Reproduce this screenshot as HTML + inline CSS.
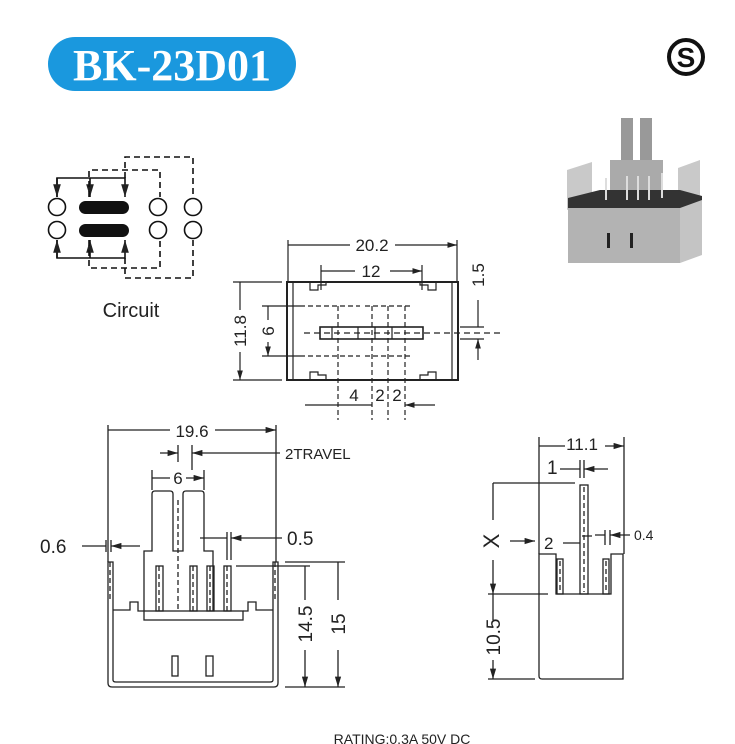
<!DOCTYPE html>
<html><head><meta charset="utf-8"><style>
html,body{margin:0;padding:0;background:#fff;}
svg{display:block;}
text{font-family:"Liberation Sans",sans-serif;fill:#222;}
</style></head><body>
<svg width="735" height="744" viewBox="0 0 735 744" xmlns="http://www.w3.org/2000/svg">
<defs>
<marker id="a" viewBox="0 0 10 6" refX="10" refY="3" markerWidth="8" markerHeight="5" orient="auto"><path d="M0,0 L10,3 L0,6 z" fill="#222"/></marker>
</defs>
<rect x="48" y="37" width="248" height="54" rx="27" fill="#1a98de"/>
<text x="172" y="80" text-anchor="middle" font-weight="bold" font-size="44" style="fill:#fff;font-family:'Liberation Serif',serif">BK-23D01</text>
<circle cx="686" cy="57" r="17" fill="none" stroke="#111" stroke-width="4"/>
<text x="686" y="67" text-anchor="middle" font-weight="bold" font-size="28" style="fill:#111">S</text>

<!-- circuit -->
<g stroke="#111" stroke-width="1.6" fill="none">
<circle cx="57" cy="207" r="8.5"/><circle cx="57" cy="230" r="8.5"/>
<circle cx="158" cy="207" r="8.5"/><circle cx="158" cy="230" r="8.5"/>
<circle cx="193" cy="207" r="8.5"/><circle cx="193" cy="230" r="8.5"/>
<path d="M57 197 V178 H125 V197" marker-end="url(#a)"/><path d="M90 178 V197" marker-end="url(#a)"/><path d="M57 178 V197" marker-end="url(#a)"/>
<path d="M57 240 V258 H125 V240" marker-end="url(#a)"/><path d="M90 258 V240" marker-end="url(#a)"/><path d="M57 258 V240" marker-end="url(#a)"/>
<g stroke-dasharray="6,4"><path d="M89 197 V170 H160 V197"/><path d="M89 240 V268 H160 V240"/><path d="M125 178 V157 H193 V197"/><path d="M125 258 V278 H193 V240"/></g>
</g>
<rect x="79" y="201" width="50" height="13" rx="6.5" fill="#111"/>
<rect x="79" y="224" width="50" height="13" rx="6.5" fill="#111"/>
<text x="131" y="317" text-anchor="middle" font-size="20">Circuit</text>

<!-- photo -->
<g>
<rect x="621" y="118" width="12" height="60" fill="#999"/><rect x="640" y="118" width="12" height="60" fill="#999"/>
<rect x="610" y="160" width="53" height="40" fill="#aaa"/>
<path d="M567 170 L592 162 V200 L567 210 Z" fill="#c9c9c9"/>
<path d="M678 168 L700 160 V205 L678 212 Z" fill="#c9c9c9"/>
<path d="M568 198 L600 190 H680 L702 196 V215 H568 Z" fill="#333"/>
<path d="M568 208 H680 V263 H568 Z" fill="#b3b3b3"/>
<path d="M680 208 L702 200 V255 L680 263 Z" fill="#c4c4c4"/>
<rect x="607" y="233" width="3" height="15" fill="#222"/><rect x="630" y="233" width="3" height="15" fill="#222"/>
<g stroke="#ddd" stroke-width="2"><path d="M606 178 V200 M627 176 V200 M638 176 V200 M649 176 V200 M662 173 V198"/></g>
</g>

<g stroke="#222" stroke-width="1.2" fill="none">
<!-- top view -->
<rect x="287" y="282" width="171" height="98" stroke-width="2"/>
<path d="M293 282 V380 M452 282 V380"/>
<path d="M310 282 V290 H318 V285 H326 V282 M436 282 V290 H428 V285 H420 V282 M310 380 V372 H318 V375 H326 V380 M436 380 V372 H428 V375 H420 V380"/>
<rect x="320" y="327" width="103" height="12" stroke-width="1.6"/>
<path d="M332 327 V339 M358 327 V339 M375 327 V339 M392 327 V339"/>
<path d="M304 333 H500" stroke-dasharray="6,4"/>
<path d="M338 306 V420 M372 306 V420 M388 306 V420 M405 306 V420" stroke-dasharray="5,3"/>
<path d="M300 306 H360 M300 356 H360 M365 306 H412 M365 356 H412" stroke-dasharray="5,3"/>
<path d="M288 282 V240 M457 282 V240 M321 290 V265 M422 290 V265"/>
<path d="M350 245 H288 M395 245 H457" marker-end="url(#a)"/>
<path d="M355 271 H321 M390 271 H422" marker-end="url(#a)"/>
<path d="M233 282 H282 M233 380 H282 M262 306 H300 M262 356 H300"/>
<path d="M240 310 V282 M240 352 V380" marker-end="url(#a)"/>
<path d="M268 320 V306 M268 342 V356" marker-end="url(#a)"/>
<path d="M460 327 H484 M460 339 H484"/>
<path d="M478 300 V327 M478 360 V339" marker-end="url(#a)"/>
<path d="M305 405 H338 M435 405 H405" marker-end="url(#a)"/>
<path d="M338 405 H372"/>
</g>
<text x="372" y="251" text-anchor="middle" font-size="17">20.2</text>
<text x="371" y="277" text-anchor="middle" font-size="17">12</text>
<text transform="translate(246,331) rotate(-90)" text-anchor="middle" font-size="17">11.8</text>
<text transform="translate(274,331) rotate(-90)" text-anchor="middle" font-size="17">6</text>
<text transform="translate(484,275) rotate(-90)" text-anchor="middle" font-size="17">1.5</text>
<text x="354" y="401" text-anchor="middle" font-size="17">4</text>
<text x="380" y="401" text-anchor="middle" font-size="17">2</text>
<text x="397" y="401" text-anchor="middle" font-size="17">2</text>

<!-- front view -->
<g stroke="#222" stroke-width="1.3" fill="none">
<path d="M108 562 V683 Q108 687 112 687 H274 Q278 687 278 683 V562 H273 V680 Q273 682 270 682 H116 Q113 682 113 680 V562 Z"/>
<path d="M113 610 H130 V602 H138 V611 H144 M273 610 H256 V602 H248 V611 H243"/>
<rect x="144" y="611" width="99" height="9"/>
<path d="M144 611 V551 H152 V494 Q152 491 155 491 H170 Q173 491 173 494 V551 H183 V494 Q183 491 186 491 H201 Q204 491 204 494 V551 H213 V611"/>
<rect x="156" y="566" width="7" height="45"/><rect x="190" y="566" width="7" height="45"/><rect x="207" y="566" width="7" height="45"/><rect x="224" y="566" width="7" height="45"/>
<path d="M178 500 V611 M159 566 V611 M193 566 V611 M210 566 V611 M227 566 V611 M110 562 V600 M275 562 V600" stroke-dasharray="5,3"/>
<rect x="172" y="656" width="6" height="20"/><rect x="206" y="656" width="7" height="20"/>
<path d="M108 562 V425 M276 562 V425"/>
<path d="M170 430 H108 M215 430 H276" marker-end="url(#a)"/>
<path d="M178 445 V462 M192 445 V470"/>
<path d="M160 453 H178" marker-end="url(#a)"/><path d="M280 453 H192" marker-end="url(#a)"/>
<path d="M152 470 V490 M204 470 V490"/>
<path d="M170 478 H152 M186 478 H204" marker-end="url(#a)"/>
<path d="M106 540 V552 M111 540 V552"/>
<path d="M82 546 H106 M140 546 H111" marker-end="url(#a)"/>
<path d="M227 532 V560 M231 532 V560"/>
<path d="M200 538 H227 M282 538 H231" marker-end="url(#a)"/>
<path d="M236 566 H310 M285 562 H345 M285 687 H345"/>
<path d="M305 600 V566 M305 650 V687" marker-end="url(#a)"/>
<path d="M338 600 V562 M338 650 V687" marker-end="url(#a)"/>
</g>
<text x="192" y="437" text-anchor="middle" font-size="17">19.6</text>
<text x="285" y="459" font-size="15">2TRAVEL</text>
<text x="178" y="484" text-anchor="middle" font-size="17">6</text>
<text x="40" y="553" font-size="19">0.6</text>
<text x="287" y="545" font-size="19">0.5</text>
<text transform="translate(312,624) rotate(-90)" text-anchor="middle" font-size="19">14.5</text>
<text transform="translate(345,624) rotate(-90)" text-anchor="middle" font-size="19">15</text>

<!-- side view -->
<g stroke="#222" stroke-width="1.3" fill="none">
<path d="M539 554 V676 Q539 679 542 679 H623 V554 H611 V594 H556 V554 Z"/>
<rect x="580" y="485" width="8" height="109"/>
<rect x="557" y="559" width="6" height="35"/><rect x="603" y="559" width="6" height="35"/>
<path d="M584 487 V592 M560 561 V592 M606 561 V592" stroke-dasharray="5,3"/>
<path d="M539 554 V437 M624 554 V437"/>
<path d="M565 446 H539 M605 446 H624" marker-end="url(#a)"/>
<path d="M580 460 V478 M584 460 V478"/>
<path d="M560 469 H580 M608 469 H584" marker-end="url(#a)"/>
<path d="M493 483 H575 M488 594 H548 M488 679 H535"/>
<path d="M493 520 V483 M493 560 V594" marker-end="url(#a)"/>
<path d="M493 620 V594 M493 660 V679" marker-end="url(#a)"/>
<path d="M510 541 H535" marker-end="url(#a)"/>
<path d="M563 543 H580 M582 536 H592" />
<path d="M605 530 V545 M610 530 V545"/>
<path d="M595 535 H605 M630 535 H610" marker-end="url(#a)"/>
</g>
<text x="582" y="450" text-anchor="middle" font-size="17">11.1</text>
<text x="547" y="474" font-size="19">1</text>
<text transform="translate(499,541) rotate(-90)" text-anchor="middle" font-size="22">X</text>
<text x="544" y="549" font-size="17">2</text>
<text x="634" y="540" font-size="14">0.4</text>
<text transform="translate(500,637) rotate(-90)" text-anchor="middle" font-size="19">10.5</text>

<text x="402" y="744" text-anchor="middle" font-size="14">RATING:0.3A 50V DC</text>
</svg>
</body></html>
